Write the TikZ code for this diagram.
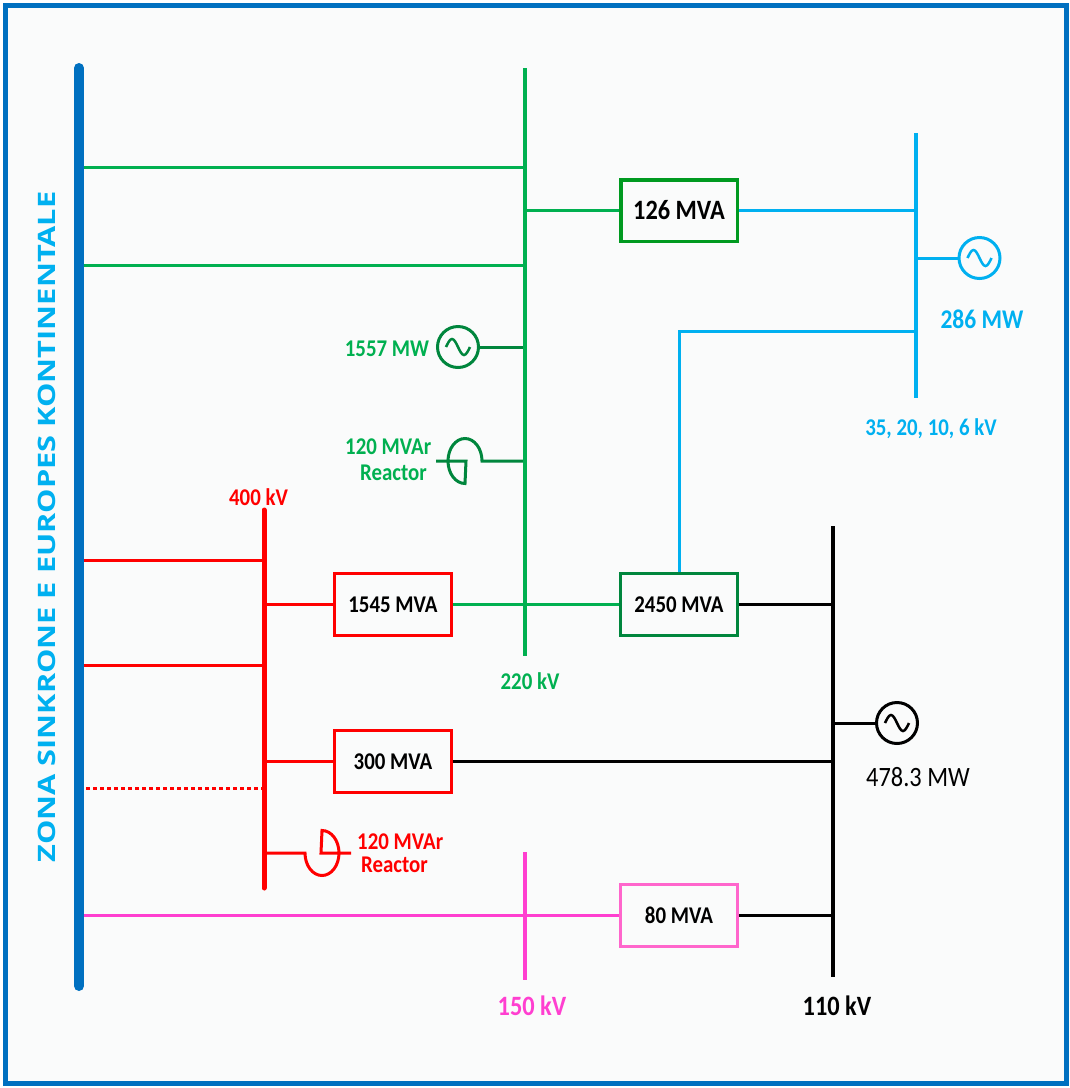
\documentclass[tikz,border=0pt]{standalone}
\usepackage{fontspec}
\setmainfont[FakeStretch=0.87]{Carlito}
\newfontfamily\zonefont[FakeStretch=1.28]{Open Sans}
\definecolor{zoneBlue}{HTML}{0070C0}
\definecolor{skyLine}{HTML}{00B0F0}
\definecolor{greenLine}{HTML}{00B050}
\definecolor{darkGreen}{HTML}{00863D}
\definecolor{boxGreen}{HTML}{009A20}
\definecolor{pinkLine}{HTML}{FF3FD0}
\definecolor{pinkBox}{HTML}{FF66CC}
\definecolor{paperTone}{HTML}{FAFBFB}
\newcommand{\labelSize}[1]{\fontsize{#1}{#1}\selectfont\bfseries}

\begin{document}
\begin{tikzpicture}[x=1pt, y=-1pt]
  \tikzset{
    bus/.style={line width=3.5pt},
    feeder/.style={line width=3pt},
    box/.style={draw, line width=3pt, minimum width=116.5pt, minimum height=61.5pt,
      inner sep=0pt, text=black, font=\labelSize{24}},
    gen/.style={circle, draw, line width=3pt, minimum size=41pt, inner sep=0pt,
      path picture={\draw[line width=2.5pt] ([xshift=-12pt]path picture bounding box.center)
        sin +(6,-8) cos +(6,8) sin +(6,8) cos +(6,-8);}},
    tag/.style={align=center, inner sep=0pt, font=\labelSize{24}}
  }
  \useasboundingbox (0,0) rectangle (1070,1088);
  \node[draw=zoneBlue, fill=paperTone, line width=5pt, minimum width=1061pt, minimum height=1078pt,
    inner sep=0pt] (frame) at (535.5,544) {};

  \coordinate (zonaTop) at (79,68);
  \coordinate (zonaEnd) at (79,986);
  \coordinate (bus220Top) at (525,68);
  \coordinate (bus220End) at (525,656);
  \coordinate (bus35Top) at (916,133);
  \coordinate (bus35End) at (916,398);
  \coordinate (bus110Top) at (833,526);
  \coordinate (bus110End) at (833,977);
  \coordinate (bus400Top) at (264,510);
  \coordinate (bus400End) at (264,888);
  \coordinate (bus150Top) at (525,852);
  \coordinate (bus150End) at (525,980);

  \node[box, draw=boxGreen, line width=3.5pt, font=\labelSize{28}] (mva126) at (679,210.5) {126 MVA};
  \node[box, draw=darkGreen] (mva2450) at (679,604.5) {2450 MVA};
  \node[box, draw=red] (mva1545) at (393,604.5) {1545 MVA};
  \node[box, draw=red] (mva300) at (393,761.5) {300 MVA};
  \node[box, draw=pinkBox] (mva80) at (679,915.5) {80 MVA};

  \node[gen, draw=skyLine, text=skyLine] (gen286) at (979.5,258) {};
  \node[gen, draw=darkGreen] (gen1557) at (458,347) {};
  \node[gen, draw=black] (gen478) at (897,723) {};

  \foreach \y in {167,265}
    \draw[feeder, greenLine] (zonaTop |- 0,\y) -- (bus220Top |- 0,\y);
  \foreach \y in {560,665}
    \draw[feeder, red] (zonaTop |- 0,\y) -- (bus400Top |- 0,\y);
  \draw[feeder, red, dash pattern=on 4pt off 3pt] (zonaTop |- 0,788) -- (bus400Top |- 0,788);
  \draw[feeder, pinkLine] (zonaTop |- mva80.west) -- (mva80.west);

  \draw[feeder, greenLine] (mva126.west) -- (mva126.west -| bus220Top);
  \draw[feeder, skyLine] (mva126.east) -- (mva126.east -| bus35Top);
  \draw[feeder, skyLine] (gen286.west) -- (gen286.west -| bus35Top);
  \draw[feeder, skyLine] (mva2450.north) |- (bus35Top |- 0,331);
  \draw[feeder, darkGreen] (gen1557.east) -- (gen1557.east -| bus220Top);
  \draw[feeder, greenLine] (mva1545.east) -- (mva2450.west);
  \draw[feeder, black] (mva2450.east) -- (mva2450.east -| bus110Top);
  \draw[feeder, red] (mva1545.west) -- (mva1545.west -| bus400Top);
  \draw[feeder, red] (mva300.west) -- (mva300.west -| bus400Top);
  \draw[feeder, black] (mva300.east) -- (mva300.east -| bus110Top);
  \draw[feeder, black] (gen478.west) -- (gen478.west -| bus110Top);
  \draw[feeder, black] (mva80.east) -- (mva80.east -| bus110Top);

  \coordinate (reactorGreen) at (466,461);
  \draw[feeder, darkGreen] (bus220Top |- reactorGreen) -- (482,461)
    arc[start angle=0, end angle=-270, x radius=17, y radius=22.5] -- (reactorGreen) -- (436,461);
  \coordinate (reactorRed) at (321,853);
  \draw[feeder, red] (bus400Top |- reactorRed) -- (305,853)
    arc[start angle=180, end angle=-90, x radius=17, y radius=22.5] -- (reactorRed) -- (351,853);

  \draw[bus, greenLine] (bus220Top) -- (bus220End);
  \draw[bus, skyLine] (bus35Top) -- (bus35End);
  \draw[bus, black] (bus110Top) -- (bus110End);
  \draw[line width=5pt, red, line cap=round] (bus400Top) -- (bus400End);
  \draw[bus, pinkLine] (bus150Top) -- (bus150End);
  \draw[line width=10pt, zoneBlue, line cap=round] (zonaTop) -- (zonaEnd);

  \node[rotate=90, text=skyLine, inner sep=0pt, font={\fontsize{24}{24}\selectfont\zonefont\bfseries}]
    (zona) at (47,527) {ZONA SINKRONE E EUROPES KONTINENTALE};
  \node[tag, text=red] (kv400) at (258.5,497) {400 kV};
  \node[tag, text=greenLine] (kv220) at (530,681) {220 kV};
  \node[tag, text=skyLine] (kv35) at (931,429) {35, 20, 10, 6 kV};
  \node[tag, text=pinkLine, font=\labelSize{28}] (kv150) at (532,1006) {150 kV};
  \node[tag, text=black, font=\labelSize{28}] (kv110) at (837,1006) {110 kV};
  \node[tag, text=skyLine, font=\labelSize{27}] (mw286) at (982,319) {286 MW};
  \node[tag, text=greenLine] (mw1557) at (387,349) {1557 MW};
  \node[text=black, inner sep=0pt, font=\fontsize{28}{28}\selectfont] (mw478) at (918,777) {478.3 MW};
  \node[tag, align=left, text=greenLine, anchor=west] (var120a) at (345,460) {120 MVAr\\[2pt]\hspace*{15pt}Reactor};
  \node[tag, align=left, text=red, anchor=west] (var120b) at (357,853) {120 MVAr\\[-1pt]\hspace*{4pt}Reactor};
\end{tikzpicture}
\end{document}
